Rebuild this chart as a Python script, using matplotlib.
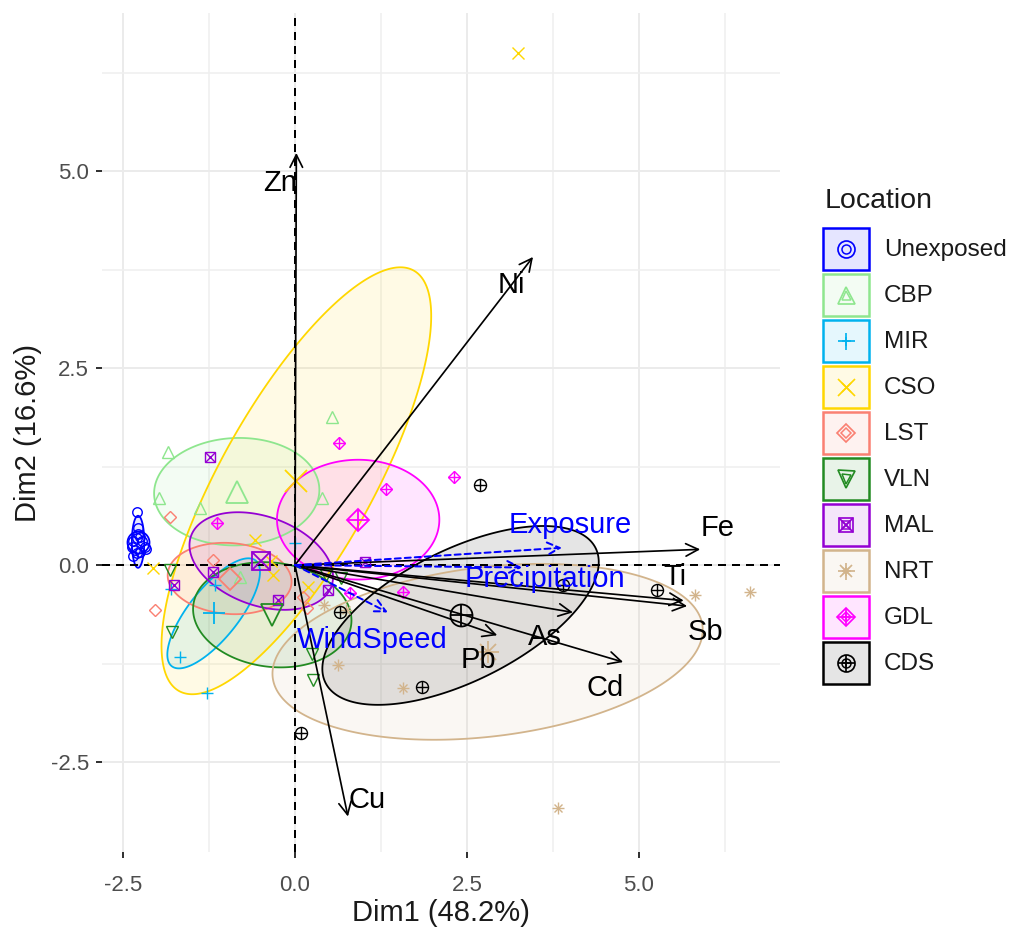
import numpy as np
import matplotlib
matplotlib.use("Agg")
import matplotlib.pyplot as plt
from matplotlib.patches import Rectangle, Polygon

plt.rcParams['font.family'] = ['Liberation Sans', 'DejaVu Sans']

W, H, DPI = 1013, 931, 100

# ---------------- data ----------------
groups = ["Unexposed", "CBP", "MIR", "CSO", "LST", "VLN", "MAL", "NRT", "GDL", "CDS"]
group_colors = ["#0000FF", "#8EE68E", "#00B2EE", "#FFD700", "#FA8072",
                "#228B22", "#9400D3", "#D2B48C", "#FF00FF", "#000000"]
group_shapes = ["circle", "triangle", "plus", "cross", "diamond",
                "triangle_down", "square_cross", "asterisk", "diamond_plus", "circle_plus"]

unexposed_x = [-2.30, -2.28, -2.28, -2.30, -2.25, -2.35, -2.23, -2.18, -2.37, -2.33, -2.25, -2.16, -2.35, -2.30]
unexposed_y = [0.68, 0.47, 0.40, 0.34, 0.36, 0.30, 0.30, 0.23, 0.23, 0.19, 0.17, 0.21, 0.11, 0.15]
cbp_x = [-1.85, -1.98, -1.38, 0.54, 0.39, -0.80]
cbp_y = [1.44, 0.85, 0.72, 1.88, 0.85, -0.15]
mir_x = [-1.67, -1.28, -1.16, 0.00, -1.80]
mir_y = [-1.17, -1.62, -0.25, 0.28, -0.30]
cso_x = [3.24, -2.06, -0.58, -0.32, -0.35, 0.19]
cso_y = [6.50, -0.04, 0.32, -0.13, 0.05, -0.28]
lst_x = [-1.82, -2.03, -1.19, 0.12, 0.17]
lst_y = [0.61, -0.57, 0.06, -0.41, -0.54]
vln_x = [-1.79, -1.82, 0.26, 0.25, 0.45, 0.67]
vln_y = [-0.85, -0.06, -1.46, -1.13, -0.12, -0.16]
mal_x = [-1.24, -1.76, -0.25, 0.48, 1.02, -1.19]
mal_y = [1.37, -0.25, -0.44, -0.32, 0.04, -0.09]
nrt_x = [3.82, 5.81, 6.61, 0.63, 1.57, 0.42, 0.74]
nrt_y = [-3.08, -0.38, -0.34, -1.27, -1.56, -0.50, -0.57]
gdl_x = [0.64, 1.32, 2.31, -1.13, 0.80, 1.57]
gdl_y = [1.55, 0.96, 1.12, 0.53, -0.36, -0.34]
cds_x = [2.69, 5.26, 1.85, 0.65, 0.09, 3.90]
cds_y = [1.02, -0.32, -1.55, -0.60, -2.13, -0.25]

# concentration ellipses: conjugate semi-diameters (data units), centred on group means
ell_ux = [0.09, 1.20, 0.61, 1.72, 0.90, 1.15, 1.02, 3.125, 1.18, 1.96]
ell_uy = [0.00, 0.05, 0.67, 2.66, -0.05, -0.10, -0.32, 0.317, 0.00, 0.86]
ell_vx = [0.00, -0.05, 0.285, 0.94, 0.02, 0.05, -0.22, 0.116, 0.00, 0.44]
ell_vy = [0.33, 0.68, -0.197, -0.51, 0.45, 0.66, -0.53, -1.07, 0.76, -0.74]

# active variables (arrows)
var_names = ["Zn", "Ni", "Fe", "Ti", "Sb", "As", "Pb", "Cd", "Cu"]
var_x = [0.02, 3.46, 5.89, 5.65, 5.70, 4.04, 2.94, 4.77, 0.77]
var_y = [5.23, 3.91, 0.20, -0.45, -0.52, -0.60, -0.89, -1.23, -3.19]
var_lab_x = [-0.22, 3.15, 6.15, 5.52, 5.96, 3.63, 2.66, 4.51, 1.05]
var_lab_y = [4.85, 3.55, 0.47, -0.15, -0.85, -0.91, -1.21, -1.56, -2.98]

# supplementary quantitative variables
sup_names = ["Exposure", "Precipitation", "WindSpeed"]
sup_x = [3.88, 3.30, 1.35]
sup_y = [0.22, -0.03, -0.60]
sup_lab_x = [4.00, 3.63, 1.12]
sup_lab_y = [0.51, -0.17, -0.95]

x_ticks = [-2.5, 0.0, 2.5, 5.0]
y_ticks = [-2.5, 0.0, 2.5, 5.0]
x_title = "Dim1 (48.2%)"
y_title = "Dim2 (16.6%)"
legend_title = "Location"

group_x = [unexposed_x, cbp_x, mir_x, cso_x, lst_x, vln_x, mal_x, nrt_x, gdl_x, cds_x]
group_y = [unexposed_y, cbp_y, mir_y, cso_y, lst_y, vln_y, mal_y, nrt_y, gdl_y, cds_y]

# ---------------- helpers ----------------
SHAPE_PARTS = {
    "circle": [("o", 1.0)],
    "triangle": [("^", 1.0)],
    "plus": [("+", 1.0)],
    "cross": [("x", 1.0)],
    "diamond": [("D", 0.72)],
    "triangle_down": [("v", 1.0)],
    "square_cross": [("s", 0.82), ("x", 0.82)],
    "asterisk": [("+", 1.0), ("x", 0.72)],
    "diamond_plus": [("D", 0.72), ("+", 1.0)],
    "circle_plus": [("o", 1.0), ("+", 1.0)],
}
SMALL_SIZE = {"circle": 9.5}


def px2pt(v):
    return v * 72.0 / DPI


def draw_shape(ax, xs, ys, shape, color, size_px, lw_px, z):
    for m, f in SHAPE_PARTS[shape]:
        ax.plot(xs, ys, ls="none", marker=m, ms=px2pt(size_px) * f, mfc="none",
                mec=color, mew=px2pt(lw_px), zorder=z, clip_on=False)


# ---------------- figure ----------------
fig = plt.figure(figsize=(W / DPI, H / DPI), dpi=DPI)
L, R, T, B = 102, 780, 13, 852
ax = fig.add_axes([L / W, 1 - B / H, (R - L) / W, (B - T) / H])
ax.set_xlim(-2.805, 7.05)
ax.set_ylim(-3.64, 7.005)

for s in ax.spines.values():
    s.set_visible(False)
ax.set_xticks(x_ticks)
ax.set_yticks(y_ticks)
ax.set_xticklabels([f"{v:.1f}" for v in x_ticks])
ax.set_yticklabels([f"{v:.1f}" for v in y_ticks])
ax.set_xticks([(a + b) / 2 for a, b in zip(x_ticks[:-1], x_ticks[1:])] + [x_ticks[-1] + 1.25], minor=True)
ax.set_yticks([(a + b) / 2 for a, b in zip(y_ticks[:-1], y_ticks[1:])] + [y_ticks[-1] + 1.25], minor=True)
ax.grid(True, which="major", color="#EBEBEB", lw=px2pt(2.0), zorder=0)
ax.grid(True, which="minor", color="#EFEFEF", lw=px2pt(1.6), zorder=0)
ax.set_axisbelow(True)
ax.tick_params(which="major", length=px2pt(6), width=px2pt(2), color="#333333",
               labelsize=16, labelcolor="#4D4D4D")
ax.tick_params(axis="x", which="major", pad=px2pt(17))
ax.tick_params(axis="y", which="major", pad=px2pt(7))
ax.tick_params(which="minor", length=0)

# zero lines
ax.axhline(0, color="black", ls=(0, (4, 3)), lw=px2pt(2.0), zorder=3)
ax.axvline(0, color="black", ls=(0, (4, 3)), lw=px2pt(2.0), zorder=3)

# ellipses
t = np.linspace(0, 2 * np.pi, 300)
for i, g in enumerate(groups):
    cx, cy = np.mean(group_x[i]), np.mean(group_y[i])
    ex = cx + ell_ux[i] * np.cos(t) + ell_vx[i] * np.sin(t)
    ey = cy + ell_uy[i] * np.cos(t) + ell_vy[i] * np.sin(t)
    ax.add_patch(Polygon(np.column_stack([ex, ey]), closed=True, facecolor=group_colors[i],
                         alpha=0.1, edgecolor="none", zorder=1))
    ax.add_patch(Polygon(np.column_stack([ex, ey]), closed=True, facecolor="none",
                         edgecolor=group_colors[i], lw=px2pt(1.8), zorder=2))

# individuals and group means
for i, g in enumerate(groups):
    draw_shape(ax, group_x[i], group_y[i], group_shapes[i], group_colors[i],
               SMALL_SIZE.get(group_shapes[i], 12), 1.4, 4)
    draw_shape(ax, [np.mean(group_x[i])], [np.mean(group_y[i])], group_shapes[i],
               group_colors[i], 22, 1.8, 5)

# variable arrows
for i, n in enumerate(var_names):
    ax.annotate("", xy=(var_x[i], var_y[i]), xytext=(0, 0),
                arrowprops=dict(arrowstyle="->,head_length=0.9,head_width=0.45",
                                color="black", lw=px2pt(1.7), shrinkA=0, shrinkB=0),
                zorder=6)
    ax.text(var_lab_x[i], var_lab_y[i], n, fontsize=21, color="black",
            ha="center", va="center", zorder=7)

for i, n in enumerate(sup_names):
    ax.annotate("", xy=(sup_x[i], sup_y[i]), xytext=(0, 0),
                arrowprops=dict(arrowstyle="->,head_length=0.9,head_width=0.45",
                                color="#0000FF", lw=px2pt(2.0), ls=(0, (3, 2)),
                                shrinkA=0, shrinkB=0),
                zorder=6)
    ax.text(sup_lab_x[i], sup_lab_y[i], n, fontsize=21, color="#0000FF",
            ha="center", va="center", zorder=7)

# axis titles
fig.text((L + R) / 2 / W, 1 - 913 / H, x_title, fontsize=21, ha="center", va="center", color="#1A1A1A")
fig.text(28 / W, 1 - (T + B) / 2 / H, y_title, fontsize=21, ha="center", va="center",
         rotation=90, color="#1A1A1A")

# legend
lax = fig.add_axes([0, 0, 1, 1])
lax.set_xlim(0, W)
lax.set_ylim(H, 0)
lax.axis("off")
lax.text(825, 201, legend_title, fontsize=20.5, ha="left", va="center", color="#1A1A1A")
for i, g in enumerate(groups):
    y0 = 228 + i * 46
    lax.add_patch(Rectangle((823, y0), 46, 42, facecolor=group_colors[i], alpha=0.1, edgecolor="none"))
    lax.add_patch(Rectangle((823, y0), 46, 42, facecolor="none", edgecolor=group_colors[i],
                            lw=px2pt(2.5)))
    draw_shape(lax, [846], [y0 + 21], group_shapes[i], group_colors[i], 9, 1.5, 4)
    draw_shape(lax, [846], [y0 + 21], group_shapes[i], group_colors[i], 17, 1.7, 4)
    lax.text(884, y0 + 22, g, fontsize=17.5, ha="left", va="center", color="#1A1A1A")

fig.savefig("out.png", dpi=DPI)
